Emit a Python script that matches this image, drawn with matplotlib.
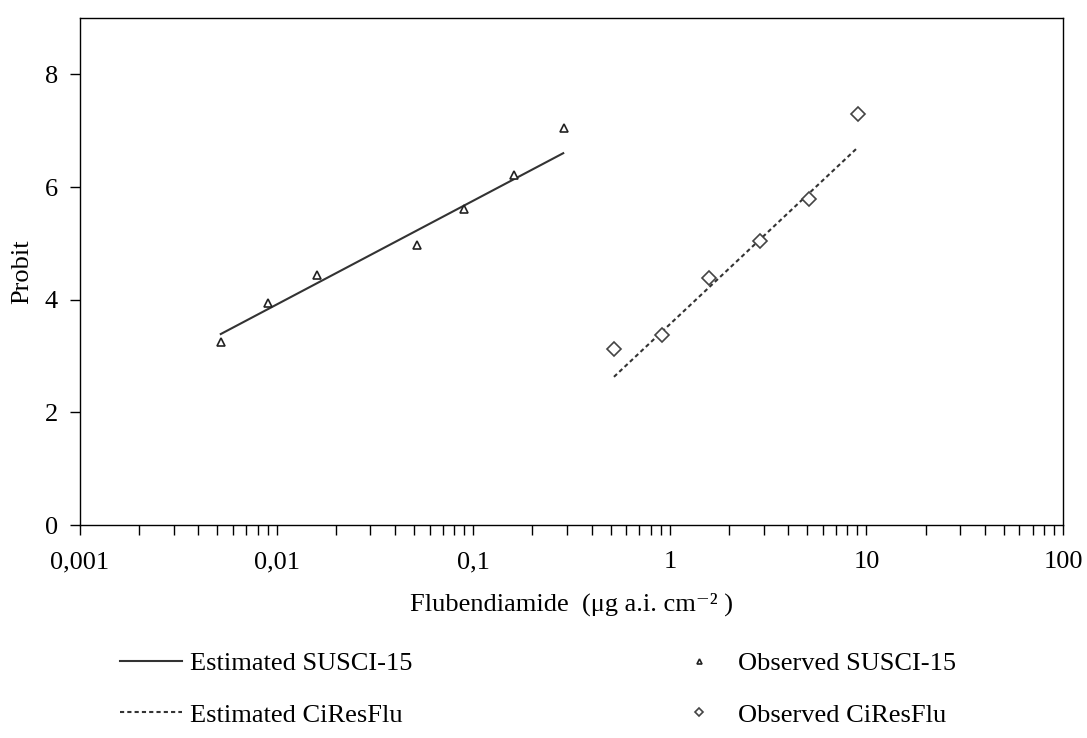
import matplotlib
matplotlib.use("Agg")
import matplotlib.pyplot as plt
import numpy as np

plt.rcParams['font.family'] = ['Liberation Serif', 'DejaVu Serif']

# Observed data
obs_susci_x = [0.0052, 0.0090, 0.0161, 0.052, 0.0895, 0.162, 0.288]
obs_susci_y = [3.24, 3.94, 4.44, 4.97, 5.61, 6.21, 7.04]
obs_cires_x = [0.52, 0.91, 1.59, 2.89, 5.13, 9.1]
obs_cires_y = [3.12, 3.38, 4.38, 5.04, 5.78, 7.30]

# Estimated (fitted) lines, endpoints
est_susci_x = [0.0052, 0.287]
est_susci_y = [3.39, 6.60]
est_cires_x = [0.52, 8.9]
est_cires_y = [2.63, 6.68]

yticks = [0, 2, 4, 6, 8]
xticks = [0.001, 0.01, 0.1, 1, 10, 100]
xticklabels = ['0,001', '0,01', '0,1', '1', '10', '100']

FS = 19

fig = plt.figure(figsize=(10.87, 7.38), dpi=100)
ax = fig.add_axes([80/1087, 1-525/738, (1063-80)/1087, (525-18)/738])

l1, = ax.plot(est_susci_x, est_susci_y, color='#333333', lw=1.5, ls='-',
              label='Estimated SUSCI-15')
l2, = ax.plot(est_cires_x, est_cires_y, color='#333333', lw=1.5, ls=(0, (2, 1.5)),
              label='Estimated CiResFlu')
m1, = ax.plot(obs_susci_x, obs_susci_y, ls='none', marker='^', ms=6, mfc='white',
              mec='#222222', mew=1.2, label='Observed SUSCI-15')
m2, = ax.plot(obs_cires_x, obs_cires_y, ls='none', marker='D', ms=7.5, mfc='white',
              mec='#444444', mew=1.2, label='Observed CiResFlu')

ax.set_xscale('log')
ax.set_xlim(0.001, 100)
ax.set_ylim(0, 9)
ax.set_yticks(yticks)
ax.set_xticks(xticks)
ax.set_xticklabels(xticklabels)
ax.tick_params(axis='both', which='major', direction='out', length=7, width=1,
               labelsize=FS, colors='black')
ax.tick_params(axis='x', which='minor', direction='out', length=7, width=1)
ax.tick_params(axis='x', which='major', pad=12)
ax.tick_params(axis='y', which='major', pad=9)
for s in ax.spines.values():
    s.set_linewidth(1)
    s.set_color('black')

ax.set_ylabel('Probit', fontsize=FS, labelpad=8)
ax.set_xlabel('Flubendiamide  (μg a.i. cm⁻² )', fontsize=FS, labelpad=14)

leg = fig.legend(handles=[l1, l2, m1, m2], ncol=2, loc='upper left',
                 bbox_to_anchor=(120/1087, 1-652/738), frameon=False,
                 borderpad=0, borderaxespad=0,
                 fontsize=FS, handlelength=2.35, handletextpad=0.3,
                 columnspacing=9.7, labelspacing=1.05, markerscale=0.6)

fig.savefig('out.png', dpi=100)
